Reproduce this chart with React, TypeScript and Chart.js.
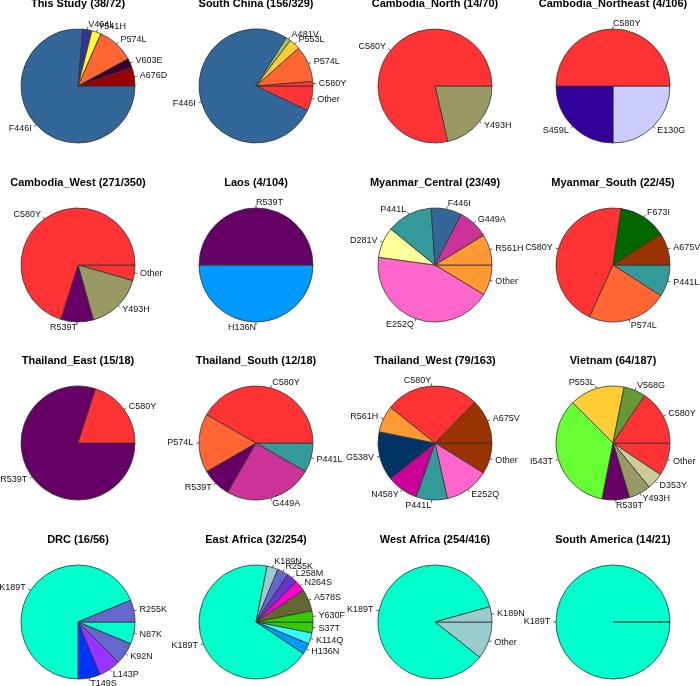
import React, { useEffect, useRef } from "react";
import { Chart, registerables } from "chart.js";

Chart.register(...registerables);

// ---------- data ----------
const thisStudyLabels = ["A676D", "V603E", "P574L", "Y541H", "V464L", "F446I"];
const thisStudyValues = [2, 1, 4, 1, 1, 29];
const thisStudyColors = ["#990000", "#330033", "#ff6633", "#ffff33", "#333399", "#336699"];

const southChinaLabels = ["C580Y", "P574L", "P553L", "A481V", "F446I", "Other"];
const southChinaValues = [2, 16, 5, 2, 120, 11];
const southChinaColors = ["#ff3333", "#ff6633", "#ffcc33", "#99cc66", "#336699", "#ff3333"];

const cambNorthLabels = ["C580Y", "Y493H"];
const cambNorthValues = [11, 3];
const cambNorthColors = ["#ff3333", "#999966"];

const cambNortheastLabels = ["C580Y", "S459L", "E130G"];
const cambNortheastValues = [2, 1, 1];
const cambNortheastColors = ["#ff3333", "#330099", "#ccccff"];

const cambWestLabels = ["C580Y", "R539T", "Y493H", "Other"];
const cambWestValues = [190, 25, 44, 12];
const cambWestColors = ["#ff3333", "#660066", "#999966", "#ff3333"];

const laosLabels = ["R539T", "H136N"];
const laosValues = [2, 2];
const laosColors = ["#660066", "#0099ff"];

const myCentralLabels = ["R561H", "G449A", "F446I", "P441L", "D281V", "E252Q", "Other"];
const myCentralValues = [2, 2, 2, 3, 2, 10, 2];
const myCentralColors = ["#ff9933", "#cc3399", "#336699", "#339999", "#ffff99", "#ff66cc", "#ff9933"];

const mySouthLabels = ["A675V", "F673I", "C580Y", "P574L", "P441L"];
const mySouthValues = [2, 3, 10, 5, 2];
const mySouthColors = ["#993300", "#006600", "#ff3333", "#ff6633", "#339999"];

const thEastLabels = ["C580Y", "R539T"];
const thEastValues = [3, 12];
const thEastColors = ["#ff3333", "#660066"];

const thSouthLabels = ["C580Y", "P574L", "R539T", "G449A", "P441L"];
const thSouthValues = [5, 2, 1, 3, 1];
const thSouthColors = ["#ff3333", "#ff6633", "#660066", "#cc3399", "#339999"];

const thWestLabels = ["A675V", "C580Y", "R561H", "G538V", "N458Y", "P441L", "E252Q", "Other"];
const thWestValues = [10, 21, 6, 11, 7, 7, 10, 7];
const thWestColors = ["#993300", "#ff3333", "#ff9933", "#003366", "#cc0099", "#339999", "#ff66cc", "#993300"];

const vietnamLabels = ["C580Y", "V568G", "P553L", "I543T", "R539T", "Y493H", "D353Y", "Other"];
const vietnamValues = [10, 4, 10, 22, 5, 4, 3, 6];
const vietnamColors = ["#ff3333", "#669933", "#ffcc33", "#66ff33", "#660066", "#999966", "#cccc99", "#ff3333"];

const drcLabels = ["R255K", "K189T", "T149S", "L143P", "K92N", "N87K"];
const drcValues = [1, 11, 1, 1, 1, 1];
const drcColors = ["#6666cc", "#00ffcc", "#0033ff", "#9933ff", "#6666cc", "#00ffcc"];

const eastAfricaLabels = ["Y630F", "A578S", "N264S", "L258M", "R255K", "K189N", "K189T", "H136N", "K114Q", "S37T"];
const eastAfricaValues = [1, 2, 1, 1, 1, 1, 22, 1, 1, 1];
const eastAfricaColors = ["#33cc00", "#666633", "#ff00cc", "#6633cc", "#6666cc", "#99cccc", "#00ffcc", "#0099ff", "#33ffff", "#33cc00"];

const westAfricaLabels = ["K189N", "K189T", "Other"];
const westAfricaValues = [11, 216, 27];
const westAfricaColors = ["#99cccc", "#00ffcc", "#99cccc"];

const southAmericaLabels = ["K189T"];
const southAmericaValues = [14];
const southAmericaColors = ["#00ffcc"];

const panelTitles = [
  "This Study (38/72)", "South China (156/329)", "Cambodia_North (14/70)", "Cambodia_Northeast (4/106)",
  "Cambodia_West (271/350)", "Laos (4/104)", "Myanmar_Central (23/49)", "Myanmar_South (22/45)",
  "Thailand_East (15/18)", "Thailand_South (12/18)", "Thailand_West (79/163)", "Vietnam (64/187)",
  "DRC (16/56)", "East Africa (32/254)", "West Africa (254/416)", "South America (14/21)",
];

const panelLabels = [
  thisStudyLabels, southChinaLabels, cambNorthLabels, cambNortheastLabels,
  cambWestLabels, laosLabels, myCentralLabels, mySouthLabels,
  thEastLabels, thSouthLabels, thWestLabels, vietnamLabels,
  drcLabels, eastAfricaLabels, westAfricaLabels, southAmericaLabels,
];
const panelValues = [
  thisStudyValues, southChinaValues, cambNorthValues, cambNortheastValues,
  cambWestValues, laosValues, myCentralValues, mySouthValues,
  thEastValues, thSouthValues, thWestValues, vietnamValues,
  drcValues, eastAfricaValues, westAfricaValues, southAmericaValues,
];
const panelColors = [
  thisStudyColors, southChinaColors, cambNorthColors, cambNortheastColors,
  cambWestColors, laosColors, myCentralColors, mySouthColors,
  thEastColors, thSouthColors, thWestColors, vietnamColors,
  drcColors, eastAfricaColors, westAfricaColors, southAmericaColors,
];

// ---------- layout ----------
const CW = 260;
const CH = 220;
const PCX = 130;
const PCY = 120;
const RADIUS = 57;
const FONT = '"Liberation Sans", Arial, Helvetica, sans-serif';

function makeLabelPlugin(title: string) {
  return {
    id: "rpieLabels",
    afterDraw(chart: any) {
      const ctx = chart.ctx;
      const meta = chart.getDatasetMeta(0);
      const labels = chart.data.labels as string[];
      ctx.save();
      let cx = PCX, cy = PCY;
      meta.data.forEach((arc: any, i: number) => {
        const p = arc.getProps(["x", "y", "startAngle", "endAngle", "outerRadius"], true);
        cx = p.x; cy = p.y;
        const r = p.outerRadius;
        const mid = (p.startAngle + p.endAngle) / 2;
        const rAng = 2 * Math.PI - mid; // R's counter-clockwise angle
        const c = Math.cos(rAng);
        const s = -Math.sin(rAng);
        ctx.strokeStyle = "#333";
        ctx.lineWidth = 0.8;
        ctx.beginPath();
        ctx.moveTo(p.x + c * r, p.y + s * r);
        ctx.lineTo(p.x + c * r * 1.05, p.y + s * r * 1.05);
        ctx.stroke();
        ctx.fillStyle = "#111";
        ctx.font = `9px ${FONT}`;
        ctx.textBaseline = "middle";
        ctx.textAlign = c < 0 ? "right" : "left";
        ctx.fillText(labels[i], p.x + c * r * 1.1, p.y + s * r * 1.1);
      });
      ctx.fillStyle = "#000";
      ctx.font = `bold 11px ${FONT}`;
      ctx.textAlign = "center";
      ctx.textBaseline = "middle";
      ctx.fillText(title, cx, cy - 82);
      ctx.restore();
    },
  };
}

function PiePanel(props: { idx: number; left: number; top: number }) {
  const ref = useRef<HTMLCanvasElement | null>(null);
  const { idx, left, top } = props;
  useEffect(() => {
    if (!ref.current) return;
    const labels = [...panelLabels[idx]].reverse();
    const values = [...panelValues[idx]].reverse();
    const colors = [...panelColors[idx]].reverse();
    const chart = new Chart(ref.current, {
      type: "pie",
      data: {
        labels,
        datasets: [
          {
            data: values,
            backgroundColor: colors,
            borderColor: "#333333",
            borderWidth: 0.8,
          },
        ],
      },
      options: {
        responsive: false,
        animation: false,
        rotation: 90,
        radius: RADIUS,
        events: [],
        layout: { padding: { top: 20, left: 20, right: 20, bottom: 0 } },
        plugins: {
          legend: { display: false },
          tooltip: { enabled: false },
          title: { display: false },
        },
      } as any,
      plugins: [makeLabelPlugin(panelTitles[idx])],
    });
    return () => chart.destroy();
  }, [idx]);
  return (
    <canvas
      ref={ref}
      width={CW}
      height={CH}
      style={{ position: "absolute", left, top, width: CW, height: CH, pointerEvents: "none" }}
    />
  );
}

export default function App() {
  const panels = [];
  for (let i = 0; i < 16; i++) {
    const row = Math.floor(i / 4);
    const col = i % 4;
    const cx = Math.round(78 + 178.4 * col);
    const cy = Math.round(86 + 178.6 * row);
    panels.push(<PiePanel key={i} idx={i} left={cx - PCX} top={cy - PCY} />);
  }
  return (
    <div
      style={{
        position: "absolute",
        left: 0,
        top: 0,
        width: 700,
        height: 686,
        overflow: "hidden",
        background: "#ffffff",
      }}
    >
      {panels}
    </div>
  );
}
